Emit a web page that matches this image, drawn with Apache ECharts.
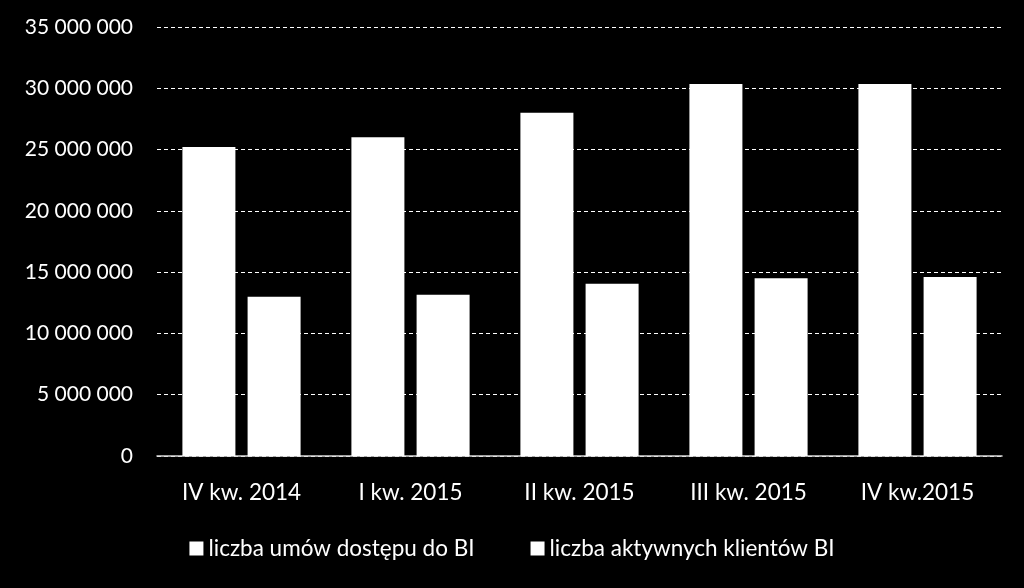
<!DOCTYPE html>
<html>
<head>
<meta charset="utf-8">
<script src="https://cdn.jsdelivr.net/npm/echarts@6/dist/echarts.min.js"></script>
<style>
html,body{margin:0;padding:0;background:#000;}
#c{width:1024px;height:588px;}
</style>
</head>
<body>
<div id="c"></div>
<script>
var categories = ['IV kw. 2014', 'I kw. 2015', 'II kw. 2015', 'III kw. 2015', 'IV kw.2015'];
var seriesNames = ['liczba umów dostępu do BI', 'liczba aktywnych klientów BI'];
var umowy = [25200000, 26000000, 28000000, 30350000, 30350000];
var klienci = [13000000, 13150000, 14050000, 14500000, 14600000];

function fmt(v){
  return String(v).replace(/\B(?=(\d{3})+(?!\d))/g, ' ');
}

var chart = echarts.init(document.getElementById('c'));
var font = 'Lato';
chart.setOption({
  backgroundColor: '#000',
  animation: false,
  grid: {left: 157, right: 22, top: 27, bottom: 132, containLabel: false},
  legend: {
    bottom: 23,
    left: 'center',
    itemWidth: 14,
    itemHeight: 14,
    itemGap: 56,
    icon: 'rect',
    textStyle: {color: '#fff', fontFamily: font, fontSize: 22.5},
    data: seriesNames
  },
  xAxis: {
    type: 'category',
    data: categories,
    axisLine: {lineStyle: {color: '#d9d9d9', width: 1.5}},
    axisTick: {show: false},
    axisLabel: {color: '#fff', fontFamily: font, fontSize: 22.5, margin: 25}
  },
  yAxis: {
    type: 'value',
    min: 0,
    max: 35000000,
    interval: 5000000,
    axisLine: {show: false},
    axisTick: {show: false},
    axisLabel: {color: '#fff', fontFamily: font, fontSize: 21, margin: 24, formatter: fmt},
    splitLine: {lineStyle: {color: '#fff', type: [4, 3], width: 1}}
  },
  series: [
    {name: seriesNames[0], type: 'bar', data: umowy, barWidth: 53, barGap: '23%',
     itemStyle: {color: '#fff'}},
    {name: seriesNames[1], type: 'bar', data: klienci, barWidth: 53,
     itemStyle: {color: '#fff'}}
  ]
});
</script>
</body>
</html>
